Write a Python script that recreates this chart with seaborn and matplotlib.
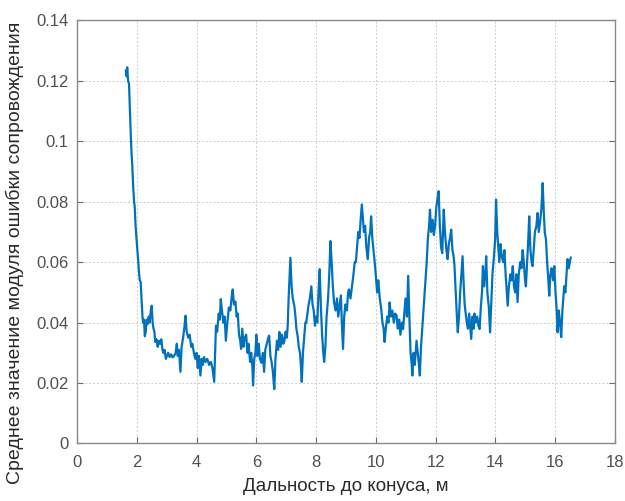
import matplotlib
matplotlib.use("Agg")
import matplotlib.pyplot as plt
import seaborn as sns
import pandas as pd

distance_m = [
    1.63, 1.66, 1.68, 1.71, 1.74, 1.77, 1.80, 1.82, 1.85, 1.88, 1.91, 1.93, 1.96, 1.99, 2.02, 2.05, 2.08, 2.10,
    2.13, 2.16, 2.19, 2.21, 2.24, 2.27, 2.30, 2.33, 2.36, 2.40, 2.43, 2.47, 2.50, 2.53, 2.56, 2.59, 2.62, 2.66,
    2.70, 2.74, 2.78, 2.82, 2.86, 2.89, 2.93, 2.97, 3.01, 3.05, 3.10, 3.15, 3.20, 3.25, 3.30, 3.34, 3.37, 3.41,
    3.46, 3.50, 3.55, 3.60, 3.63, 3.67, 3.72, 3.77, 3.82, 3.86, 3.91, 3.96, 4.00, 4.04, 4.08, 4.13, 4.17, 4.21,
    4.25, 4.30, 4.36, 4.42, 4.48, 4.53, 4.59, 4.62, 4.65, 4.69, 4.74, 4.78, 4.81, 4.85, 4.90, 4.94, 4.98, 5.03,
    5.08, 5.13, 5.18, 5.21, 5.25, 5.30, 5.34, 5.38, 5.42, 5.46, 5.49, 5.53, 5.57, 5.61, 5.66, 5.70, 5.74, 5.79,
    5.83, 5.87, 5.89, 5.93, 5.97, 6.00, 6.04, 6.08, 6.12, 6.17, 6.22, 6.26, 6.30, 6.35, 6.40, 6.43, 6.47, 6.51,
    6.55, 6.60, 6.64, 6.69, 6.73, 6.77, 6.81, 6.86, 6.90, 6.94, 6.98, 7.02, 7.05, 7.08, 7.11, 7.14, 7.18, 7.22,
    7.27, 7.31, 7.34, 7.38, 7.42, 7.46, 7.49, 7.52, 7.56, 7.60, 7.64, 7.67, 7.71, 7.75, 7.79, 7.84, 7.88, 7.92,
    7.96, 8.00, 8.04, 8.08, 8.12, 8.16, 8.20, 8.24, 8.27, 8.31, 8.35, 8.40, 8.44, 8.48, 8.52, 8.56, 8.60, 8.65,
    8.70, 8.74, 8.79, 8.83, 8.86, 8.90, 8.94, 8.98, 9.03, 9.07, 9.10, 9.15, 9.20, 9.25, 9.29, 9.33, 9.37, 9.41,
    9.45, 9.49, 9.53, 9.57, 9.60, 9.64, 9.68, 9.73, 9.77, 9.81, 9.84, 9.88, 9.92, 9.96, 10.00, 10.04, 10.08, 10.13,
    10.18, 10.22, 10.26, 10.29, 10.33, 10.38, 10.42, 10.46, 10.50, 10.55, 10.60, 10.64, 10.69, 10.73, 10.78, 10.82,
    10.87, 10.91, 10.95, 10.99, 11.04, 11.08, 11.12, 11.16, 11.20, 11.22, 11.26, 11.30, 11.36, 11.40, 11.44, 11.47,
    11.51, 11.55, 11.59, 11.63, 11.67, 11.70, 11.74, 11.78, 11.81, 11.85, 11.90, 11.94, 11.98, 12.02, 12.06, 12.10,
    12.14, 12.18, 12.22, 12.27, 12.31, 12.36, 12.40, 12.44, 12.48, 12.52, 12.56, 12.60, 12.63, 12.67, 12.71, 12.74,
    12.78, 12.82, 12.86, 12.90, 12.94, 12.97, 13.00, 13.04, 13.08, 13.12, 13.16, 13.19, 13.23, 13.27, 13.30, 13.34,
    13.39, 13.43, 13.47, 13.51, 13.55, 13.58, 13.62, 13.66, 13.69, 13.73, 13.78, 13.82, 13.86, 13.90, 13.95, 13.99,
    14.02, 14.06, 14.10, 14.13, 14.17, 14.21, 14.26, 14.30, 14.34, 14.38, 14.41, 14.45, 14.50, 14.54, 14.58, 14.62,
    14.66, 14.70, 14.74, 14.78, 14.83, 14.87, 14.91, 14.95, 14.99, 15.02, 15.06, 15.10, 15.13, 15.17, 15.21, 15.24,
    15.28, 15.32, 15.37, 15.41, 15.45, 15.50, 15.54, 15.58, 15.62, 15.65, 15.69, 15.73, 15.77, 15.80, 15.84, 15.88,
    15.93, 15.97, 16.01, 16.05, 16.08, 16.12, 16.16, 16.20, 16.24, 16.27, 16.30, 16.34, 16.38, 16.41, 16.45, 16.49,
    16.52,
]

mean_abs_error = [
    0.1235, 0.1215, 0.1245, 0.1200, 0.1190, 0.1100, 0.1020, 0.0970, 0.0920, 0.0850, 0.0800, 0.0785, 0.0720, 0.0680, 0.0640, 0.0600, 0.0560, 0.0540,
    0.0535, 0.0480, 0.0420, 0.0400, 0.0410, 0.0355, 0.0370, 0.0410, 0.0395, 0.0420, 0.0400, 0.0440, 0.0456, 0.0400, 0.0380, 0.0370, 0.0336, 0.0345,
    0.0320, 0.0340, 0.0330, 0.0345, 0.0310, 0.0300, 0.0310, 0.0280, 0.0290, 0.0300, 0.0286, 0.0295, 0.0285, 0.0290, 0.0300, 0.0330, 0.0290, 0.0310,
    0.0237, 0.0320, 0.0350, 0.0390, 0.0423, 0.0370, 0.0350, 0.0360, 0.0320, 0.0330, 0.0300, 0.0280, 0.0300, 0.0250, 0.0290, 0.0225, 0.0280, 0.0260,
    0.0286, 0.0270, 0.0280, 0.0260, 0.0270, 0.0250, 0.0204, 0.0300, 0.0390, 0.0370, 0.0430, 0.0410, 0.0478, 0.0440, 0.0400, 0.0420, 0.0340, 0.0400,
    0.0450, 0.0440, 0.0490, 0.0510, 0.0460, 0.0470, 0.0420, 0.0430, 0.0360, 0.0340, 0.0313, 0.0380, 0.0320, 0.0350, 0.0360, 0.0300, 0.0330, 0.0270,
    0.0300, 0.0250, 0.0192, 0.0280, 0.0300, 0.0360, 0.0290, 0.0330, 0.0280, 0.0267, 0.0300, 0.0237, 0.0310, 0.0330, 0.0350, 0.0357, 0.0290, 0.0270,
    0.0240, 0.0180, 0.0280, 0.0340, 0.0310, 0.0369, 0.0320, 0.0360, 0.0330, 0.0340, 0.0370, 0.0350, 0.0390, 0.0480, 0.0550, 0.0615, 0.0520, 0.0480,
    0.0456, 0.0420, 0.0380, 0.0357, 0.0320, 0.0300, 0.0260, 0.0204, 0.0300, 0.0350, 0.0400, 0.0400, 0.0430, 0.0460, 0.0480, 0.0520, 0.0460, 0.0440,
    0.0390, 0.0420, 0.0400, 0.0500, 0.0577, 0.0450, 0.0360, 0.0300, 0.0270, 0.0320, 0.0420, 0.0480, 0.0560, 0.0670, 0.0600, 0.0520, 0.0468, 0.0440,
    0.0480, 0.0420, 0.0460, 0.0490, 0.0400, 0.0313, 0.0420, 0.0460, 0.0440, 0.0500, 0.0510, 0.0480, 0.0520, 0.0560, 0.0600, 0.0600, 0.0650, 0.0700,
    0.0680, 0.0740, 0.0791, 0.0740, 0.0700, 0.0720, 0.0650, 0.0610, 0.0680, 0.0700, 0.0752, 0.0680, 0.0640, 0.0600, 0.0555, 0.0500, 0.0540, 0.0480,
    0.0445, 0.0400, 0.0380, 0.0336, 0.0380, 0.0420, 0.0400, 0.0467, 0.0420, 0.0440, 0.0400, 0.0430, 0.0425, 0.0380, 0.0410, 0.0360,
    0.0400, 0.0379, 0.0430, 0.0480, 0.0420, 0.0555, 0.0420, 0.0300, 0.0260, 0.0225, 0.0300, 0.0260, 0.0340, 0.0300, 0.0260, 0.0225,
    0.0320, 0.0380, 0.0445, 0.0500, 0.0560, 0.0600, 0.0680, 0.0720, 0.0774, 0.0700, 0.0740, 0.0690, 0.0720, 0.0780, 0.0810, 0.0835,
    0.0720, 0.0650, 0.0630, 0.0774, 0.0700, 0.0640, 0.0610, 0.0660, 0.0680, 0.0708, 0.0640, 0.0620, 0.0587, 0.0500, 0.0420, 0.0368,
    0.0420, 0.0500, 0.0560, 0.0620, 0.0520, 0.0460, 0.0435, 0.0400, 0.0380, 0.0430, 0.0380, 0.0346, 0.0420, 0.0380, 0.0430, 0.0400,
    0.0420, 0.0390, 0.0379, 0.0450, 0.0500, 0.0587, 0.0520, 0.0560, 0.0620, 0.0500, 0.0450, 0.0368, 0.0460, 0.0560, 0.0620, 0.0675,
    0.0807, 0.0700, 0.0640, 0.0600, 0.0660, 0.0620, 0.0600, 0.0640, 0.0560, 0.0500, 0.0456, 0.0520, 0.0560, 0.0540, 0.0587, 0.0520,
    0.0500, 0.0560, 0.0468, 0.0560, 0.0600, 0.0580, 0.0640, 0.0600, 0.0540, 0.0520, 0.0600, 0.0680, 0.0752, 0.0640, 0.0600, 0.0587,
    0.0640, 0.0700, 0.0720, 0.0763, 0.0700, 0.0740, 0.0780, 0.0862, 0.0760, 0.0700, 0.0675, 0.0600, 0.0540, 0.0489, 0.0560, 0.0580,
    0.0540, 0.0587, 0.0500, 0.0440, 0.0368, 0.0440, 0.0400, 0.0352, 0.0440, 0.0480, 0.0520, 0.0500, 0.0560, 0.0610, 0.0580, 0.0600,
    0.0616,
]

x_ticks = [0, 2, 4, 6, 8, 10, 12, 14, 16, 18]
y_ticks = [0, 0.02, 0.04, 0.06, 0.08, 0.1, 0.12, 0.14]
y_tick_labels = ["0", "0.02", "0.04", "0.06", "0.08", "0.1", "0.12", "0.14"]
x_label = "Дальность до конуса, м"
y_label = "Среднее значение модуля ошибки сопровождения"

df = pd.DataFrame({"x": distance_m, "y": mean_abs_error})

sns.set_theme(style="white")
plt.rcParams["font.family"] = ["Liberation Sans", "DejaVu Sans"]

fig = plt.figure(figsize=(6.25, 5.01), dpi=100)
ax = fig.add_axes([0.1232, 0.1148, 0.8608, 0.8443])

sns.lineplot(data=df, x="x", y="y", sort=False, estimator=None,
             color="#0072BD", linewidth=1.6, ax=ax)

ax.set_xlim(0, 18)
ax.set_ylim(0, 0.14)
ax.set_xticks(x_ticks)
ax.set_yticks(y_ticks)
ax.set_yticklabels(y_tick_labels)
ax.grid(True, color="#cccccc", linestyle=(0, (2, 2)), linewidth=0.7)
for s in ax.spines.values():
    s.set_visible(True)
    s.set_color("#8a8a8a")
    s.set_linewidth(1.0)
ax.tick_params(direction="in", length=4, width=0.8, color="#6a6a6a",
               labelsize=12, labelcolor="#505050",
               top=False, right=True, bottom=True, left=True)
ax.tick_params(axis="x", pad=8)
ax.tick_params(axis="y", pad=6)
ax.set_xlabel(x_label, fontsize=13.5, color="#2a2a2a", labelpad=6)
ax.set_ylabel(y_label, fontsize=14, color="#2a2a2a")
ax.yaxis.set_label_coords(-0.098, 0.45)

fig.savefig("out.png", dpi=100)
